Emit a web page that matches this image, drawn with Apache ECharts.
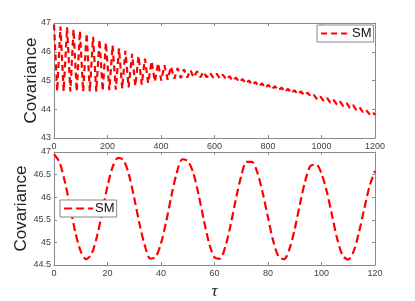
<!DOCTYPE html>
<html><head><meta charset="utf-8">
<script src="https://cdn.jsdelivr.net/npm/echarts@6/dist/echarts.min.js"></script>
<style>html,body{margin:0;padding:0;background:#fff}#c{width:415px;height:301px}</style>
</head><body><div id="c"></div>
<script>
// ---- data ----
const seriesName = 'SM';
const yLabel = 'Covariance';
const xLabel = 'τ';

// upper panel: peaks / troughs of the fast oscillation over tau 0..1200
const topTau = [0,12,24,36,49,61,73,85,97,109,122,134,146,158,170,182,194,207,219,231,
  243,255,267,279,292,304,316,328,340,352,365,377,389,401,413,425,437,450,462,474,
  486,498,510,522,535,547,559,571,583,595,608,620,632,644,656,668,680,693,705,717,
  729,741,753,765,778,790,802,814,826,838,851,863,875,887,899,911,923,936,948,960,
  972,984,996,1008,1021,1033,1045,1057,1069,1081,1094,1106,1118,1130,1142,1154,1166,1179,1191,1200];
const topCov = [46.95,44.63,46.88,44.63,46.85,44.62,46.78,44.62,46.72,44.62,
  46.64,44.62,46.52,44.62,46.42,44.64,46.32,44.66,46.22,44.68,
  46.12,44.72,46.03,44.76,45.93,44.81,45.85,44.86,45.76,44.91,
  45.67,44.96,45.60,45.00,45.53,45.03,45.48,45.06,45.43,45.08,
  45.39,45.10,45.36,45.11,45.32,45.11,45.30,45.11,45.27,45.10,
  45.24,45.07,45.20,45.03,45.15,44.99,45.10,44.94,45.05,44.89,
  45.00,44.84,44.95,44.79,44.90,44.74,44.85,44.69,44.80,44.65,
  44.75,44.60,44.71,44.56,44.66,44.52,44.62,44.48,44.58,44.43,
  44.49,44.34,44.44,44.29,44.39,44.23,44.33,44.17,44.27,44.11,
  44.21,44.05,44.14,43.98,44.07,43.91,43.99,43.83,43.91,43.80];

// lower panel: tau 0..120
const botTau = [0,2,4,6,8,10,12,14,16,18,20,22,24,26,28,30,32,34,36,38,40,42,44,46,48,50,
  52,54,56,58,60,62,64,66,68,70,72,74,76,78,80,82,84,86,88,90,92,94,96,98,100,
  102,104,106,108,110,112,114,116,118,120];
const botCov = [46.95,46.78,46.36,45.80,45.22,44.80,44.63,44.74,45.12,45.66,46.24,46.68,46.87,
  46.82,46.50,45.98,45.40,44.92,44.64,44.68,44.98,45.48,46.06,46.56,46.84,46.80,
  46.55,46.07,45.50,44.98,44.67,44.64,44.90,45.38,45.96,46.47,46.78,46.78,46.55,
  46.10,45.55,45.02,44.68,44.63,44.85,45.30,45.86,46.38,46.70,46.72,46.52,
  46.12,45.58,45.05,44.70,44.62,44.80,45.22,45.75,46.25,46.58];

const topX = {min: 0, max: 1200, interval: 200};
const topY = {min: 43, max: 47, interval: 1};
const botX = {min: 0, max: 120, interval: 20};
const botY = {min: 44.5, max: 47, interval: 0.5};

// ---- chart ----
const AXIS = '#8a8a8a', LBL = '#404040', RED = '#ff0000';
const FONT = '"Liberation Sans", Arial, sans-serif';

function xAxis(grid, r, pos, labels, name) {
  return {
    type: 'value', gridIndex: grid, position: pos, min: r.min, max: r.max, interval: r.interval,
    splitLine: {show: false},
    axisLine: {show: true, onZero: false, lineStyle: {color: AXIS, width: 1}},
    axisTick: {show: true, inside: true, length: 3, lineStyle: {color: AXIS}},
    axisLabel: {show: labels, color: LBL, fontSize: 9, fontFamily: FONT, margin: 4,
                formatter: v => String(v)},
    name: name || '', nameLocation: 'middle', nameGap: 18, nameMoveOverlap: false,
    nameTextStyle: {fontFamily: '"Liberation Serif", "DejaVu Serif", serif', fontStyle: 'italic', fontSize: 17, color: '#222'}
  };
}
function yAxis(grid, r, pos, labels, gap) {
  return {
    type: 'value', gridIndex: grid, position: pos, min: r.min, max: r.max, interval: r.interval,
    splitLine: {show: false},
    axisLine: {show: true, onZero: false, lineStyle: {color: AXIS, width: 1}},
    axisTick: {show: true, inside: true, length: 3, lineStyle: {color: AXIS}},
    axisLabel: {show: labels, color: LBL, fontSize: 9, fontFamily: FONT, margin: 3,
                formatter: v => String(v)},
    name: labels ? yLabel : '', nameLocation: 'middle', nameRotate: 90, nameGap: gap || 0,
    nameMoveOverlap: false,
    nameTextStyle: {fontFamily: FONT, fontSize: 17, color: '#222'}
  };
}

function legend(left, top, dash) {
  return {left: left, top: top, padding: [2, 2, 2, 3], itemWidth: 29, itemHeight: 14, itemGap: 0,
    data: [seriesName], selectedMode: false, borderColor: '#888', borderWidth: 1, borderRadius: 0,
    backgroundColor: '#fff',
    itemStyle: {color: 'rgba(0,0,0,0)', borderColor: 'rgba(0,0,0,0)', borderWidth: 0},
    lineStyle: {type: dash, width: 2.2, color: RED},
    textStyle: {fontFamily: FONT, fontSize: 13, color: '#111', padding: [0, 0, 0, -3]}};
}

const chart = echarts.init(document.getElementById('c'), null, {renderer: 'canvas'});
chart.setOption({
  animation: false,
  backgroundColor: '#fff',
  grid: [
    {left: 54, top: 23, width: 321, height: 115},
    {left: 54, top: 152, width: 321, height: 115}
  ],
  xAxis: [
    xAxis(0, topX, 'bottom', true),
    xAxis(1, botX, 'bottom', true, xLabel),
    xAxis(0, topX, 'top', false),
    xAxis(1, botX, 'top', false)
  ],
  yAxis: [
    yAxis(0, topY, 'left', true, 14),
    yAxis(1, botY, 'left', true, 24),
    yAxis(0, topY, 'right', false),
    yAxis(1, botY, 'right', false)
  ],
  legend: [legend(317, 25, [6, 4]), legend(60, 200, [8, 4])],
  series: [
    {name: seriesName, type: 'line', xAxisIndex: 0, yAxisIndex: 0, showSymbol: false, symbol: 'none',
     data: topTau.map((t, i) => [t, topCov[i]]),
     lineStyle: {color: RED, width: 2.2, type: [6, 4]}, itemStyle: {color: RED}},
    {name: seriesName, type: 'line', xAxisIndex: 1, yAxisIndex: 1, showSymbol: false, symbol: 'none',
     smooth: 0.3,
     data: botTau.map((t, i) => [t, botCov[i]]),
     lineStyle: {color: RED, width: 2.2, type: [8, 4]}, itemStyle: {color: RED}}
  ]
});
</script>
</body></html>
